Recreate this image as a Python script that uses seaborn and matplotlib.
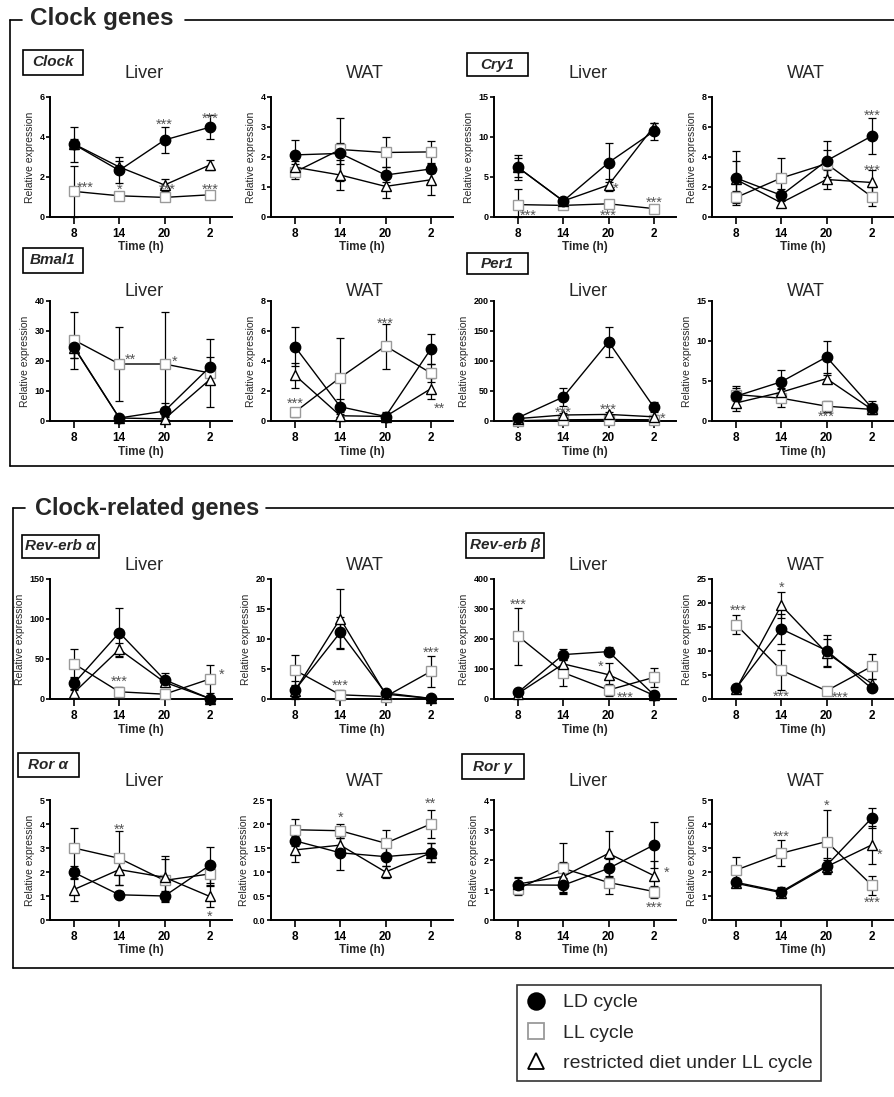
import numpy as np
import pandas as pd
import matplotlib
matplotlib.use("Agg")
import matplotlib.pyplot as plt
import seaborn as sns
from matplotlib.lines import Line2D
from matplotlib.patches import Rectangle

sns.set_theme(style="ticks")
plt.rcParams["font.family"] = ["Liberation Sans", "DejaVu Sans"]

# =========================
# DATA
# =========================

times = ["8", "14", "20", "2"]
group_labels = {"LD": "LD cycle", "LL": "LL cycle", "RD": "restricted diet under LL cycle"}

clock_liver = {"LD": [3.63, 2.33, 3.85, 4.49], "LL": [1.28, 1.06, 0.98, 1.11], "RD": [3.65, 2.5, 1.6, 2.6]}
clock_liver_err = {"LD": [0.87, 0.65, 0.63, 0.6], "LL": [1.28, 0.15, 0.2, 0.15], "RD": [0.25, 0.3, 0.3, 0.25]}
clock_wat = {"LD": [2.07, 2.12, 1.4, 1.6], "LL": [1.5, 2.25, 2.15, 2.17], "RD": [1.66, 1.4, 1.02, 1.24]}
clock_wat_err = {"LD": [0.5, 0.35, 0.25, 0.15], "LL": [0.25, 1.05, 0.5, 0.37], "RD": [0.2, 0.5, 0.4, 0.5]}

cry1_liver = {"LD": [6.2, 2.0, 6.8, 10.7], "LL": [1.55, 1.45, 1.65, 1.05], "RD": [6.2, 2.0, 4.0, 11.3]}
cry1_liver_err = {"LD": [1.6, 0.3, 2.4, 1.1], "LL": [2.0, 0.3, 0.4, 0.5], "RD": [1.2, 0.4, 0.7, 0.4]}
cry1_wat = {"LD": [2.6, 1.45, 3.75, 5.4], "LL": [1.3, 2.6, 3.55, 1.35], "RD": [2.5, 0.95, 2.5, 2.3]}
cry1_wat_err = {"LD": [1.8, 0.4, 1.3, 1.2], "LL": [0.4, 1.35, 0.9, 0.65], "RD": [1.2, 0.2, 0.65, 0.85]}

bmal1_liver = {"LD": [24.7, 1.0, 3.3, 18.0], "LL": [27.0, 19.0, 19.0, 16.0], "RD": [24.5, 1.0, 0.7, 13.8]}
bmal1_liver_err = {"LD": [3.8, 0.5, 2.7, 3.4], "LL": [9.5, 12.3, 17.3, 11.2], "RD": [3.5, 0.7, 0.5, 1.0]}
bmal1_wat = {"LD": [4.95, 0.95, 0.3, 4.8], "LL": [0.6, 2.9, 5.0, 3.2], "RD": [3.05, 0.35, 0.3, 2.15]}
bmal1_wat_err = {"LD": [1.3, 0.5, 0.2, 1.0], "LL": [0.3, 2.65, 1.5, 0.6], "RD": [0.85, 0.25, 0.3, 0.7]}

per1_liver = {"LD": [5.5, 40, 132, 23], "LL": [0.5, 2, 2.5, 2], "RD": [4, 10, 11, 7]}
per1_liver_err = {"LD": [4, 15, 25, 8], "LL": [1, 2, 2, 2], "RD": [3, 4, 4, 3]}
per1_wat = {"LD": [3.1, 4.9, 8.0, 1.65], "LL": [3.3, 2.85, 1.85, 1.45], "RD": [2.25, 3.6, 5.3, 1.45]}
per1_wat_err = {"LD": [1.3, 1.5, 2.05, 0.8], "LL": [0.8, 1.1, 0.7, 0.3], "RD": [1.0, 0.5, 0.5, 0.3]}

rev_a_liver = {"LD": [19.6, 83, 24, 0.5], "LL": [44, 9, 6, 25], "RD": [8, 62, 21, 0.5]}
rev_a_liver_err = {"LD": [8, 31, 8, 1], "LL": [18, 6, 4, 17], "RD": [5, 8, 5, 0.5]}
rev_a_wat = {"LD": [1.5, 11.1, 1.0, 0.1], "LL": [4.8, 0.7, 0.4, 4.6], "RD": [1.4, 13.4, 0.8, 0.1]}
rev_a_wat_err = {"LD": [1.5, 2.6, 0.3, 0.1], "LL": [2.6, 0.8, 0.3, 2.6], "RD": [1.0, 5.0, 0.3, 0.1]}

rev_b_liver = {"LD": [22, 148, 158, 14], "LL": [210, 88, 30, 72], "RD": [18, 117, 81, 12]}
rev_b_liver_err = {"LD": [10, 18, 15, 10], "LL": [95, 45, 20, 33], "RD": [8, 12, 40, 8]}
rev_b_wat = {"LD": [2.2, 14.6, 10.1, 2.2], "LL": [15.5, 6.0, 1.7, 6.8], "RD": [2.0, 19.5, 9.6, 3.2]}
rev_b_wat_err = {"LD": [0.3, 3.2, 3.3, 0.5], "LL": [2.0, 4.2, 0.4, 2.6], "RD": [0.3, 2.7, 3.0, 1.0]}

ror_a_liver = {"LD": [1.98, 1.05, 1.0, 2.28], "LL": [3.0, 2.57, 1.65, 1.92], "RD": [1.27, 2.1, 1.78, 0.98]}
ror_a_liver_err = {"LD": [0.28, 0.15, 0.2, 0.75], "LL": [0.85, 1.12, 0.9, 0.45], "RD": [0.48, 0.65, 0.88, 0.45]}
ror_a_wat = {"LD": [1.65, 1.4, 1.32, 1.4], "LL": [1.88, 1.86, 1.6, 2.0], "RD": [1.46, 1.56, 1.0, 1.4]}
ror_a_wat_err = {"LD": [0.1, 0.35, 0.2, 0.2], "LL": [0.23, 0.15, 0.28, 0.3], "RD": [0.26, 0.15, 0.12, 0.2]}

ror_g_liver = {"LD": [1.17, 1.16, 1.72, 2.5], "LL": [1.05, 1.72, 1.25, 0.95], "RD": [1.2, 1.45, 2.22, 1.48]}
ror_g_liver_err = {"LD": [0.22, 0.25, 0.3, 0.76], "LL": [0.2, 0.85, 0.38, 0.2], "RD": [0.22, 0.5, 0.76, 0.5]}
ror_g_wat = {"LD": [1.57, 1.18, 2.27, 4.25], "LL": [2.08, 2.78, 3.27, 1.45], "RD": [1.53, 1.14, 2.22, 3.13]}
ror_g_wat_err = {"LD": [0.15, 0.2, 0.3, 0.4], "LL": [0.55, 0.55, 1.33, 0.4], "RD": [0.15, 0.15, 0.3, 0.8]}

# significance marks: (x position in time index, y value, text)
clock_liver_stars = [(0.25, 1.65, "***"), (1, 1.53, "*"), (2, 4.77, "***"), (2.05, 1.53, "***"), (3, 5.1, "***"), (3, 1.53, "***")]
clock_wat_stars = []
cry1_liver_stars = [(0.22, 0.63, "***"), (2.15, 4.0, "*"), (2, 0.63, "***"), (3, 2.2, "***")]
cry1_wat_stars = [(3, 7.0, "***"), (3, 3.3, "***")]
bmal1_liver_stars = [(1.25, 21.7, "**"), (2.22, 20.8, "*")]
bmal1_wat_stars = [(0, 1.38, "***"), (2, 6.7, "***"), (3.18, 1.04, "**")]
per1_liver_stars = [(1, 19.6, "***"), (2, 25, "***"), (3.2, 9.5, "*")]
per1_wat_stars = [(2, 1.0, "***")]
rev_a_liver_stars = [(1, 25.8, "***"), (3.27, 34, "*")]
rev_a_wat_stars = [(1, 2.7, "***"), (3, 8.3, "***")]
rev_b_liver_stars = [(0, 325, "***"), (1.82, 120, "*"), (2.38, 14, "***")]
rev_b_wat_stars = [(0.05, 19.0, "***"), (1, 23.8, "*"), (1, 1.1, "***"), (2.3, 1.04, "***")]
ror_a_liver_stars = [(1, 3.9, "**"), (3, 0.28, "*")]
ror_a_wat_stars = [(1, 2.2, "*"), (3, 2.49, "**")]
ror_g_liver_stars = [(3.28, 1.69, "*"), (3, 0.53, "***")]
ror_g_wat_stars = [(1, 3.6, "***"), (2, 4.9, "*"), (3.17, 2.85, "*"), (3, 0.86, "***")]

# (row, col, tissue, values, errors, y max, y step, stars)
panels = [
    (0, 0, "Liver", clock_liver, clock_liver_err, 6, 2, clock_liver_stars),
    (0, 1, "WAT", clock_wat, clock_wat_err, 4, 1, clock_wat_stars),
    (0, 2, "Liver", cry1_liver, cry1_liver_err, 15, 5, cry1_liver_stars),
    (0, 3, "WAT", cry1_wat, cry1_wat_err, 8, 2, cry1_wat_stars),
    (1, 0, "Liver", bmal1_liver, bmal1_liver_err, 40, 10, bmal1_liver_stars),
    (1, 1, "WAT", bmal1_wat, bmal1_wat_err, 8, 2, bmal1_wat_stars),
    (1, 2, "Liver", per1_liver, per1_liver_err, 200, 50, per1_liver_stars),
    (1, 3, "WAT", per1_wat, per1_wat_err, 15, 5, per1_wat_stars),
    (2, 0, "Liver", rev_a_liver, rev_a_liver_err, 150, 50, rev_a_liver_stars),
    (2, 1, "WAT", rev_a_wat, rev_a_wat_err, 20, 5, rev_a_wat_stars),
    (2, 2, "Liver", rev_b_liver, rev_b_liver_err, 400, 100, rev_b_liver_stars),
    (2, 3, "WAT", rev_b_wat, rev_b_wat_err, 25, 5, rev_b_wat_stars),
    (3, 0, "Liver", ror_a_liver, ror_a_liver_err, 5, 1, ror_a_liver_stars),
    (3, 1, "WAT", ror_a_wat, ror_a_wat_err, 2.5, 0.5, ror_a_wat_stars),
    (3, 2, "Liver", ror_g_liver, ror_g_liver_err, 4, 1, ror_g_liver_stars),
    (3, 3, "WAT", ror_g_wat, ror_g_wat_err, 5, 1, ror_g_wat_stars),
]

# gene label boxes: (text, left px, top px, width px, height px)
gene_boxes = [
    ("Clock", 23, 50, 60, 25), ("Cry1", 467, 53, 61, 23),
    ("Bmal1", 23, 248, 60, 25), ("Per1", 467, 253, 61, 21),
    ("Rev-erb α", 22, 535, 77, 23), ("Rev-erb β", 466, 533, 78, 25),
    ("Ror α", 18, 753, 61, 24), ("Ror γ", 462, 754, 62, 25),
]

# =========================
# LAYOUT (pixels)
# =========================

W, H = 895, 1097
col_left = [50, 271, 494, 712]
row_top = [97, 301, 579, 800]
title_y = [73, 291, 566, 781]
ax_w, ax_h = 182, 120

styles = {
    "LL": dict(marker="s", markersize=7, markerfacecolor="white", markeredgecolor="#9a9a9a"),
    "RD": dict(marker="^", markersize=7.5, markerfacecolor="white", markeredgecolor="black"),
    "LD": dict(marker="o", markersize=7.5, markerfacecolor="black", markeredgecolor="black"),
}


def fx(x):
    return x / W


def fy(y):
    return 1 - y / H


fig = plt.figure(figsize=(W / 100, H / 100), dpi=100)


def draw_panel(ax, vals, errs, ymax, ystep, stars):
    x = np.arange(len(times))
    for g in ["LL", "RD", "LD"]:
        y = np.array(vals[g], dtype=float)
        e = np.array(errs[g], dtype=float)
        lower = np.minimum(e, y)
        ax.errorbar(x, y, yerr=[lower, e], fmt="none", ecolor="black",
                    elinewidth=0.9, capsize=3.2, capthick=0.9, zorder=2, clip_on=False)
        df = pd.DataFrame({"time": x, "value": y})
        sns.lineplot(data=df, x="time", y="value", ax=ax, color="black", linewidth=1,
                     errorbar=None, legend=False, zorder=3, clip_on=False,
                     markeredgewidth=1, **styles[g])

    for sx, sy, s in stars:
        ax.annotate(s, (sx, sy), xytext=(0, -2.5), textcoords="offset points",
                    ha="center", va="center", fontsize=10.5, color="#555555",
                    annotation_clip=False)

    ax.set_xlim(-0.53, 3.49)
    ax.set_ylim(0, ymax)
    ax.set_xticks(x)
    ax.set_xticklabels(times, fontsize=8.5, fontweight="bold")
    yt = np.arange(0, ymax + ystep / 2, ystep)
    ax.set_yticks(yt)
    if ystep < 1:
        ax.set_yticklabels([f"{v:.1f}" for v in yt], fontsize=6.5, fontweight="bold")
    else:
        ax.set_yticklabels([f"{v:g}" for v in yt], fontsize=6.5, fontweight="bold")
    ax.set_xlabel("Time (h)", fontsize=8.5, fontweight="bold", labelpad=1)
    ax.set_ylabel("Relative expression", fontsize=7.5, labelpad=3)
    sns.despine(ax=ax)
    for sp in ["left", "bottom"]:
        ax.spines[sp].set_linewidth(1.4)
        ax.spines[sp].set_color("black")
    ax.tick_params(axis="y", length=3, width=1.2, pad=1, colors="black")
    ax.tick_params(axis="x", length=5, width=1.2, pad=3, colors="black")
    ax.set_facecolor("none")


for row, col, tissue, vals, errs, ymax, ystep, stars in panels:
    left, top = col_left[col], row_top[row]
    ax = fig.add_axes([fx(left), fy(top + ax_h), ax_w / W, ax_h / H])
    draw_panel(ax, vals, errs, ymax, ystep, stars)
    fig.text(fx(left + ax_w / 2 + 3), fy(title_y[row]), tissue, ha="center", va="center", fontsize=13)

for label, left, top, bw, bh in gene_boxes:
    fig.add_artist(Rectangle((fx(left), fy(top + bh)), bw / W, bh / H, transform=fig.transFigure,
                             facecolor="white", edgecolor="black", linewidth=1.2))
    fig.text(fx(left + bw / 2), fy(top + bh / 2), label, ha="center", va="center",
             fontsize=11, fontstyle="italic", fontweight="bold")


def frame_line(x0, y0, x1, y1):
    fig.add_artist(Line2D([fx(x0), fx(x1)], [fy(y0), fy(y1)], transform=fig.transFigure,
                          color="black", linewidth=1.2))


# section frames
frame_line(10, 20, 22, 20)
frame_line(185, 20, 895, 20)
frame_line(10, 20, 10, 466)
frame_line(10, 466, 895, 466)
fig.text(fx(30), fy(19), "Clock genes", ha="left", va="center", fontsize=17.5, fontweight="bold")

frame_line(13, 508, 25, 508)
frame_line(266, 508, 895, 508)
frame_line(13, 508, 13, 968)
frame_line(13, 968, 895, 968)
fig.text(fx(35), fy(509), "Clock-related genes", ha="left", va="center", fontsize=17, fontweight="bold")

# legend
handles = [Line2D([], [], linestyle="none", **{**styles[g], "markersize": 12, "markeredgewidth": 1.3})
           for g in ["LD", "LL", "RD"]]
leg = fig.legend(handles, [group_labels[g] for g in ["LD", "LL", "RD"]],
                 loc="upper left", bbox_to_anchor=(fx(517), fy(985)), fontsize=14,
                 frameon=True, fancybox=False, handlelength=1.1, handletextpad=0.8,
                 labelspacing=0.65, borderpad=0.45, borderaxespad=0)
leg.get_frame().set_edgecolor("black")
leg.get_frame().set_linewidth(1.2)

fig.savefig("out.png", dpi=100)
